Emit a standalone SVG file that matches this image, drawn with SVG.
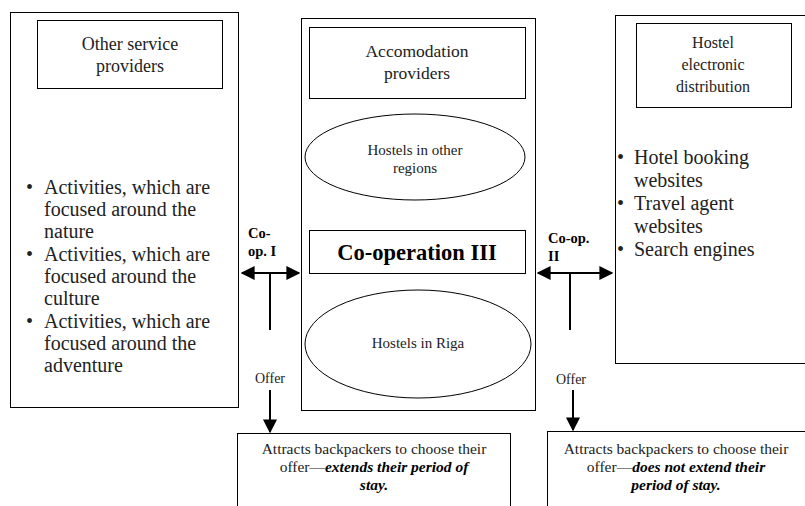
<svg xmlns="http://www.w3.org/2000/svg" width="805" height="506" viewBox="0 0 805 506">
<style>
.box{fill:#fff;stroke:#000;stroke-width:1}
.t{font-family:"Liberation Serif","Times New Roman",serif;fill:#222}
.b{font-family:"Liberation Serif","Times New Roman",serif;font-weight:bold;fill:#000}
.bi{font-weight:bold;font-style:italic;fill:#000}
.ln{stroke:#000;stroke-width:2;fill:none}
</style>
<defs>
<marker id="ah" viewBox="0 0 10 10" refX="9" refY="5" markerWidth="7" markerHeight="7" orient="auto-start-reverse" markerUnits="strokeWidth">
<path d="M0,0 L10,5 L0,10 z" fill="#000"/>
</marker>
</defs>
<rect width="805" height="506" fill="#fff"/>
<g id="left">
<rect class="box" x="10.5" y="12.5" width="228" height="395"/>
<rect class="box" x="37.5" y="20.5" width="185" height="68"/>
<text class="t" font-size="18" text-anchor="middle" x="130" y="50">Other service</text>
<text class="t" font-size="18" text-anchor="middle" x="130" y="72">providers</text>
<g class="t" font-size="20">
<text x="26" y="194">•</text><text x="44" y="194">Activities, which are</text>
<text x="44" y="216">focused around the</text>
<text x="44" y="238">nature</text>
<text x="26" y="261">•</text><text x="44" y="261">Activities, which are</text>
<text x="44" y="283">focused around the</text>
<text x="44" y="305">culture</text>
<text x="26" y="328">•</text><text x="44" y="328">Activities, which are</text>
<text x="44" y="350">focused around the</text>
<text x="44" y="372">adventure</text>
</g>
</g>
<g id="center">
<rect class="box" x="301.5" y="18.5" width="234" height="392"/>
<rect class="box" x="309.5" y="27.5" width="216" height="71"/>
<text class="t" font-size="17.5" text-anchor="middle" x="417" y="57">Accomodation</text>
<text class="t" font-size="17.5" text-anchor="middle" x="417" y="79">providers</text>
<ellipse class="box" cx="415" cy="157" rx="110" ry="43"/>
<text class="t" font-size="15" text-anchor="middle" x="415" y="155">Hostels in other</text>
<text class="t" font-size="15" text-anchor="middle" x="415" y="173">regions</text>
<rect class="box" x="309.5" y="230.5" width="216" height="43"/>
<text class="b" font-size="22.5" text-anchor="middle" x="417" y="260">Co-operation III</text>
<ellipse class="box" cx="418" cy="344" rx="113" ry="54"/>
<text class="t" font-size="15" text-anchor="middle" x="418" y="348">Hostels in Riga</text>
</g>
<g id="right">
<rect class="box" x="615.5" y="15.5" width="200" height="348"/>
<rect class="box" x="636.5" y="23.5" width="155" height="84"/>
<text class="t" font-size="16" text-anchor="middle" x="713" y="48">Hostel</text>
<text class="t" font-size="16" text-anchor="middle" x="713" y="70">electronic</text>
<text class="t" font-size="16" text-anchor="middle" x="713" y="92">distribution</text>
<g class="t" font-size="20">
<text x="617" y="164">•</text><text x="634" y="164">Hotel booking</text>
<text x="634" y="187">websites</text>
<text x="617" y="210">•</text><text x="634" y="210">Travel agent</text>
<text x="634" y="233">websites</text>
<text x="617" y="256">•</text><text x="634" y="256">Search engines</text>
</g>
</g>
<g id="result-left">
<rect class="box" x="237.5" y="433.5" width="273" height="80"/>
<text class="t" font-size="15.5" text-anchor="middle" x="374" y="454">Attracts backpackers to choose their</text>
<text class="t" font-size="15.5" text-anchor="middle" x="374" y="472">offer—<tspan class="bi">extends their period of</tspan></text>
<text class="t bi" font-size="15.5" text-anchor="middle" x="374" y="490">stay.</text>
</g>
<g id="result-right">
<rect class="box" x="547.5" y="431.5" width="270" height="80"/>
<text class="t" font-size="15.5" text-anchor="middle" x="676" y="454">Attracts backpackers to choose their</text>
<text class="t" font-size="15.5" text-anchor="middle" x="676" y="472">offer—<tspan class="bi">does not extend their</tspan></text>
<text class="t bi" font-size="15.5" text-anchor="middle" x="676" y="490">period of stay.</text>
</g>
<g id="connectors">
<line class="ln" x1="242" y1="273" x2="299" y2="273" marker-start="url(#ah)" marker-end="url(#ah)"/>
<line class="ln" x1="270" y1="273" x2="270" y2="330"/>
<line class="ln" x1="270" y1="390" x2="270" y2="432" marker-end="url(#ah)"/>
<line class="ln" x1="538" y1="273" x2="612" y2="273" marker-start="url(#ah)" marker-end="url(#ah)"/>
<line class="ln" x1="570" y1="273" x2="570" y2="330"/>
<line class="ln" x1="573" y1="390" x2="573" y2="430" marker-end="url(#ah)"/>
<text class="b" font-size="14.5" x="248" y="238">Co-</text>
<text class="b" font-size="14.5" x="248" y="256">op. I</text>
<text class="b" font-size="14.5" x="548" y="243">Co-op.</text>
<text class="b" font-size="14.5" x="548" y="261">II</text>
<text class="t" font-size="14" text-anchor="middle" x="270" y="383">Offer</text>
<text class="t" font-size="14" text-anchor="middle" x="571" y="384">Offer</text>
</g>
</svg>
